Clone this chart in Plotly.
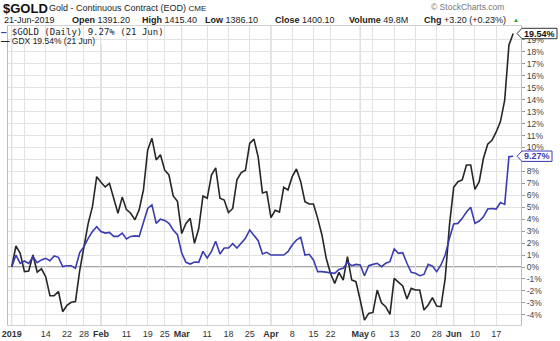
import pandas as pd
import plotly.graph_objects as go

# Trading sessions, Jan 2 - Jun 21 2019 (NYSE holidays removed)
holidays = ["2019-01-21", "2019-02-18", "2019-04-19", "2019-05-27"]
sessions = [d.strftime("%Y-%m-%d") for d in pd.bdate_range("2019-01-02", "2019-06-21")
            if d.strftime("%Y-%m-%d") not in holidays]

# Cumulative % change since the first session
gdx_pct = [
    0.0, 1.76, 1.14, -0.39, -0.34, 1.0, -0.42, -0.15, -0.81, -2.4,
    -2.4, -2.05, -3.74, -3.2, -2.95, -2.9, -0.3, 1.7, 3.65, 5.05,
    7.56, 7.1, 6.7, 7.0, 5.75, 4.5, 5.85, 4.8, 4.5, 3.95,
    4.8, 6.45, 9.8, 10.77, 8.96, 9.4, 8.1, 7.7, 5.94, 5.5,
    2.8, 3.65, 4.07, 1.98, 3.2, 5.94, 5.75, 7.7, 8.3, 5.75,
    5.6, 4.55, 4.9, 7.3, 7.9, 8.1, 10.35, 10.7, 9.2, 6.2,
    6.3, 4.13, 4.75, 4.6, 6.67, 6.45, 7.56, 8.2, 7.14, 5.47,
    5.27, 5.27, 4.07, 2.68, 0.73, -0.53, -1.37, -0.45, -1.09, 0.86,
    -1.09, -1.23, -2.76, -4.44, -3.88, -3.8, -1.93, -2.99, -3.32, -3.97,
    -0.95, -1.23, -1.59, -2.68, -1.79, -1.93, -1.93, -3.6, -3.18, -2.57,
    -3.27, -3.32, -0.95, 3.5, 6.67, 7.14, 7.28, 8.54, 8.54, 6.5,
    7.14, 9.1, 10.27, 10.6, 11.3, 12.17, 13.97, 18.58, 19.54,
]
gold_pct = [
    0.0, 1.0, 0.3, 0.5, 0.3, 0.86, 0.36, 0.59, 0.73, 0.53,
    0.92, 0.81, 0.03, 0.11, 0.11, -0.11, 1.2, 1.7, 2.4, 2.97,
    3.37, 2.97, 2.84, 2.9, 2.56, 2.56, 2.84, 2.34, 2.56, 2.6,
    2.56, 3.65, 4.9, 5.2, 3.65, 4.0, 3.9, 3.65, 3.1, 2.7,
    1.17, 0.39, 0.25, 0.42, 0.39, 1.31, 0.75, 1.31, 2.15, 1.09,
    1.59, 1.59, 1.95, 1.59, 2.0, 2.4, 3.1, 2.6, 2.2, 1.09,
    1.23, 1.0, 1.0, 1.0, 1.0, 1.28, 1.84, 2.26, 2.48, 1.0,
    1.06, 0.59, -0.39, -0.39, -0.45, -0.45, -0.53, -0.2, -0.11, 0.39,
    0.11, 0.22, 0.17, -0.73, 0.11, 0.22, 0.31, 0.03, 0.31, 0.45,
    1.51, 1.14, 1.2, 0.31, -0.45, -0.53, -0.73, -0.62, 0.22, 0.08,
    -0.39, 0.17, 1.0, 2.4, 3.6, 3.65, 4.07, 4.6, 5.0, 3.65,
    3.85, 4.2, 4.85, 4.9, 4.85, 5.4, 5.24, 9.23, 9.27,
]

tick_dates = ["2019-01-02", "2019-01-14", "2019-01-22", "2019-01-28", "2019-02-01",
              "2019-02-11", "2019-02-19", "2019-02-25", "2019-03-01", "2019-03-11",
              "2019-03-18", "2019-03-25", "2019-04-01", "2019-04-08", "2019-04-15",
              "2019-04-22", "2019-05-01", "2019-05-06", "2019-05-13", "2019-05-20",
              "2019-05-28", "2019-06-03", "2019-06-10", "2019-06-17"]
tick_labels = ["<b>2019</b>", "14", "22", "28", "<b>Feb</b>", "11", "19", "25", "<b>Mar</b>",
               "11", "18", "25", "<b>Apr</b>", "8", "15", "22", "<b>May</b>", "6", "13",
               "20", "28", "<b>Jun</b>", "10", "17"]
month_starts = ["2019-01-02", "2019-02-01", "2019-03-01", "2019-04-01", "2019-05-01", "2019-06-03"]
extra_grid = ["2019-01-07"]
y_ticks = list(range(-4, 20))

GOLD_BLUE = "#3b3bb0"
GDX_BLACK = "#262626"
FONT = "Liberation Sans"

W, H = 560, 341
L, R, T, B = 8, 521, 26, 325
PX_PER_PCT = 11.95
ZERO_Y = 267


def px(x):
    return (x - L) / (R - L)


def py(y):
    return (B - y) / (B - T)


fig = go.Figure()
fig.add_trace(go.Scatter(x=sessions, y=gdx_pct, mode="lines",
                         line=dict(color=GDX_BLACK, width=1.6), name="GDX"))
fig.add_trace(go.Scatter(x=sessions, y=gold_pct, mode="lines",
                         line=dict(color=GOLD_BLUE, width=1.6), name="$GOLD"))

shapes = []
for d in month_starts:
    shapes.append(dict(type="line", xref="x", yref="paper", x0=d, x1=d, y0=0, y1=1,
                       line=dict(color="#c4c4c4", width=1), layer="below"))
for d in extra_grid:
    shapes.append(dict(type="line", xref="x", yref="paper", x0=d, x1=d, y0=0, y1=1,
                       line=dict(color="#e2e2e2", width=1), layer="below"))
shapes.append(dict(type="line", xref="paper", yref="y", x0=0, x1=1, y0=0, y1=0,
                   line=dict(color="#8a8a8a", width=1.4), layer="below"))
# white panel behind the legend rows
shapes.append(dict(type="rect", xref="paper", yref="paper", x0=px(0), x1=px(172),
                   y0=py(44), y1=py(27), fillcolor="white", line=dict(width=0), layer="below"))


def value_tag(v, right, color):
    """Arrow-shaped price tag pointing at the axis, at value v."""
    h = 5.2 / PX_PER_PCT
    xs = [px(517), px(522), px(right), px(right), px(522)]
    ys = [v, v + h, v + h, v - h, v - h]
    path = "M " + " L ".join(f"{a},{b}" for a, b in zip(xs, ys)) + " Z"
    return dict(type="path", xref="paper", yref="y", path=path, fillcolor="white",
                line=dict(color=color, width=1), layer="above")


gold_last = f"{gold_pct[-1]:.2f}%"
gdx_last = f"{gdx_pct[-1]:.2f}%"
shapes.append(value_tag(gdx_pct[-1], 557, "#333"))
shapes.append(value_tag(gold_pct[-1], 552, GOLD_BLUE))

ann = []
# header
ann.append(dict(x=px(1), y=py(8), xref="paper", yref="paper", xanchor="left", yanchor="middle",
                text="<b>$GOLD</b>", font=dict(family=FONT, size=13, color="#111"), showarrow=False))
ann.append(dict(x=px(47), y=py(8.5), xref="paper", yref="paper", xanchor="left", yanchor="middle",
                text="Gold - Continuous Contract (EOD) <span style='font-size:8px'>CME</span>",
                font=dict(family=FONT, size=9, color="#222"), showarrow=False))
ann.append(dict(x=px(429), y=py(7.5), xref="paper", yref="paper", xanchor="left", yanchor="middle",
                text="© StockCharts.com", font=dict(family=FONT, size=8.5, color="#777"),
                showarrow=False))
header2 = [
    (2, "21-Jun-2019"), (70, "<b>Open</b> 1391.20"), (140, "<b>High</b> 1415.40"),
    (203, "<b>Low</b> 1386.10"), (273, "<b>Close</b> 1400.10"), (347, "<b>Volume</b> 49.8M"),
    (422, "<b>Chg</b> +3.20 (+0.23%)"),
]
for xx, t in header2:
    ann.append(dict(x=px(xx), y=py(20), xref="paper", yref="paper", xanchor="left",
                    yanchor="middle", text=t, font=dict(family=FONT, size=9, color="#222"),
                    showarrow=False))
ann.append(dict(x=px(515.5), y=py(20), xref="paper", yref="paper", xanchor="center",
                yanchor="middle", text="▲", font=dict(family=FONT, size=6, color="#2a9a2a"),
                showarrow=False))
# legend rows
ann.append(dict(x=px(0), y=py(32.5), xref="paper", yref="paper", xanchor="left", yanchor="middle",
                text=f"<span style='color:{GOLD_BLUE}'><b>—</b></span> $GOLD (Daily) {gold_last} (21 Jun)",
                font=dict(family="DejaVu Sans Mono", size=9, color="#222"),
                borderpad=0, showarrow=False))
ann.append(dict(x=px(0), y=py(41), xref="paper", yref="paper", xanchor="left", yanchor="middle",
                text=f"<b>—</b> GDX {gdx_last} (21 Jun)",
                font=dict(family=FONT, size=8.5, color="#222"),
                borderpad=0, showarrow=False))
# last-value tag texts
ann.append(dict(x=px(539.5), y=gdx_pct[-1], xref="paper", yref="y", xanchor="center",
                yanchor="middle", text=f"<b>{gdx_last}</b>",
                font=dict(family=FONT, size=9, color="#111"), showarrow=False, borderpad=0))
ann.append(dict(x=px(537), y=gold_pct[-1], xref="paper", yref="y", xanchor="center",
                yanchor="middle", text=f"<b>{gold_last}</b>",
                font=dict(family=FONT, size=9, color=GOLD_BLUE), showarrow=False, borderpad=0))

x0 = 11.7
step = 4.25
fig.update_layout(
    width=W, height=H,
    margin=dict(l=L, r=W - R, t=T, b=H - B, pad=0, autoexpand=False),
    paper_bgcolor="white", plot_bgcolor="white",
    showlegend=False,
    shapes=shapes, annotations=ann,
    xaxis=dict(type="category", range=[(L - x0) / step, (R - x0) / step],
               tickmode="array", tickvals=tick_dates, ticktext=tick_labels,
               tickangle=0, automargin=False,
               showgrid=True, gridcolor="#e2e2e2", gridwidth=1,
               ticks="", tickfont=dict(family=FONT, size=9, color="#333"),
               showline=True, linecolor="#cfcfcf", mirror=True, zeroline=False),
    yaxis=dict(side="right",
               range=[(ZERO_Y - B) / PX_PER_PCT, (ZERO_Y - T) / PX_PER_PCT],
               tickmode="array", tickvals=y_ticks, ticktext=[f"{v}%" for v in y_ticks],
               automargin=False,
               showgrid=True, gridcolor="#e2e2e2", gridwidth=1,
               ticks="outside", ticklen=3, tickcolor="#999",
               tickfont=dict(family=FONT, size=8.5, color="#444"),
               showline=True, linecolor="#bdbdbd", mirror=True, zeroline=False),
)

fig.write_html("out.html")
